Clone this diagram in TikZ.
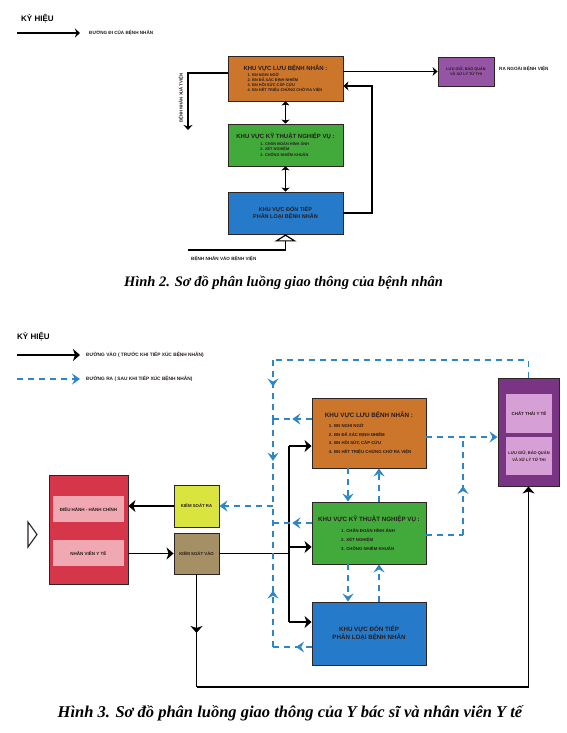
\documentclass[tikz,border=0pt]{standalone}
\usepackage{fontspec}
\setmainfont{Liberation Serif}
\setsansfont{Liberation Sans}
\usepackage{xcolor}
\usepackage{tikz}
\usetikzlibrary{arrows.meta, positioning, calc, decorations.markings}
\definecolor{PLOrange}{RGB}{203, 118, 42}
\definecolor{PLGreen}{RGB}{66, 170, 58}
\definecolor{PLBlue}{RGB}{38, 122, 202}
\definecolor{PLPurple}{RGB}{150, 84, 165}
\definecolor{PLPurpleDark}{RGB}{122, 52, 132}
\definecolor{PLPurpleLight}{RGB}{214, 160, 214}
\definecolor{PLRed}{RGB}{214, 54, 74}
\definecolor{PLRedLight}{RGB}{240, 168, 178}
\definecolor{PLYellow}{RGB}{218, 228, 62}
\definecolor{PLOlive}{RGB}{164, 144, 100}
\definecolor{PLDash}{RGB}{44, 134, 200}
\definecolor{PLBorder}{RGB}{45, 35, 35}
\definecolor{PLText}{RGB}{40, 28, 28}

\begin{document}
\begin{tikzpicture}[x=1pt,y=-1pt,
  box/.style={draw=PLBorder, line width=0.9pt, inner sep=0pt, font=\sffamily\bfseries, text=PLText},
  lineA/.style={line width=1.2pt, draw=black},
  tipA/.style={-{Stealth[length=5pt,width=9pt,inset=1.5pt]}},
  dblA/.style={{Stealth[length=4pt,width=8pt,inset=1pt]}-{Stealth[length=4pt,width=8pt,inset=1pt]}},
  lineB/.style={line width=1.6pt, draw=black},
  tipB/.style={-{Stealth[length=7pt,width=12pt,inset=2pt]}},
  midB/.style={postaction={decorate}, decoration={markings,
    mark=at position #1 with {\arrow{Stealth[length=7pt,width=12pt,inset=2pt]}}}},
  dsh/.style={line width=1.7pt, draw=PLDash, dash pattern=on 6pt off 5pt},
  tipD/.style={-{Stealth[length=8pt,width=11pt,inset=3pt]}},
  midD/.style={postaction={decorate}, decoration={markings,
    mark=at position #1 with {\arrow{Stealth[length=8pt,width=11pt,inset=3pt]}}}},
  legtxt/.style={anchor=west, inner sep=0pt, font=\sffamily\bfseries, text=PLText}]
  \path[use as bounding box] (0,0) rectangle (567,733);
  \fill[white] (0,0) rectangle (567,733);

  % Hinh 2 - ky hieu
  \node[anchor=west, inner sep=0pt] (kyA) at (21,19) {{\fontsize{8}{9}\selectfont\sffamily\bfseries KỲ HIỆU}};
  \coordinate (kyA1) at (17,33);
  \coordinate (kyA2) at (80,33);
  \draw[lineA, tipA] (kyA1) -- (kyA2);
  \node[legtxt] (kyAtxt) at (89,33) {\fontsize{4.6}{5}\selectfont ĐƯỜNG ĐI CỦA BỆNH NHÂN};

  % Hinh 2 - cac khu vuc
  \node[box, fill=PLOrange, minimum width=115, minimum height=45, align=left,
    font=\sffamily\bfseries\fontsize{3.9}{5}\selectfont] (luuA) at (285.5,78.5) {
    {\fontsize{6}{7}\selectfont KHU VỰC LƯU BỆNH NHÂN :}\\[1pt]
    \hspace*{4pt}1. BN NGHI NGỜ\\
    \hspace*{4pt}2. BN ĐÃ XÁC ĐỊNH NHIỄM\\
    \hspace*{4pt}3. BN HỒI SỨC CẤP CỨU\\
    \hspace*{4pt}4. BN HẾT TRIỆU CHỨNG CHỜ RA VIỆN
  };
  \node[box, fill=PLGreen, minimum width=115, minimum height=42, align=left,
    font=\sffamily\bfseries\fontsize{3.9}{5.5}\selectfont] (ktA) at (285.5,145) {
    {\fontsize{6}{7}\selectfont KHU VỰC KỸ THUẬT NGHIỆP VỤ :}\\[1pt]
    \hspace*{24pt}1. CHẨN ĐOÁN HÌNH ẢNH\\
    \hspace*{24pt}2. XÉT NGHIỆM\\
    \hspace*{24pt}3. CHỐNG NHIỄM KHUẨN
  };
  \node[box, fill=PLBlue, minimum width=115, minimum height=42, align=center,
    font=\sffamily\bfseries\fontsize{5.5}{7}\selectfont] (donA) at (285.5,213) {KHU VỰC ĐÓN TIẾP\\ PHÂN LOẠI BỆNH NHÂN};
  \node[box, fill=PLPurple, minimum width=56, minimum height=29, align=center,
    font=\sffamily\bfseries\fontsize{3.8}{4.8}\selectfont] (tthiA) at (466,71.5) {LƯU GIỮ, BẢO QUẢN\\ VÀ XỬ LÝ TỬ THI};
  \node[legtxt] (raA) at (499,69) {\fontsize{4.6}{5}\selectfont RA NGOÀI BỆNH VIỆN};

  % Hinh 2 - duong di
  \coordinate (xuatA) at (188,130);
  \draw[lineA, tipA] ($(luuA.west)+(0,-5.5)$) -| (xuatA);
  \node[legtxt, anchor=center, rotate=90] (xuatAtxt) at (181,98) {\fontsize{4.3}{5}\selectfont BỆNH NHÂN XUẤT VIỆN};
  \draw[lineA, tipA] (luuA.east |- tthiA.west) -- (tthiA.west);
  \draw[lineA, dblA] (luuA.south) -- (ktA.north);
  \draw[lineA, dblA] (ktA.south) -- (donA.north);
  \coordinate (vongA) at (372,86);
  \draw[lineA, tipA] (donA.east) -| (vongA) -- (vongA -| luuA.east);
  \coordinate (vaoA) at (188,250);
  \draw[lineA, -{Triangle[open, length=7pt, width=22pt]}] (vaoA) -| (donA.south);
  \node[legtxt] (vaoAtxt) at (191,259) {\fontsize{4.6}{5}\selectfont BỆNH NHÂN VÀO BỆNH VIỆN};

  \node (capA) at (283.5,283) {{\fontsize{14.5}{16}\selectfont\bfseries\itshape Hình 2. Sơ đồ phân luồng giao thông của bệnh nhân}};

  % Hinh 3 - ky hieu
  \node[anchor=west, inner sep=0pt] (kyB) at (17,337) {{\fontsize{8}{9}\selectfont\sffamily\bfseries KỲ HIỆU}};
  \coordinate (kyB1) at (17,355);
  \coordinate (kyB2) at (80,355);
  \draw[lineB, tipB] (kyB1) -- (kyB2);
  \node[legtxt] (kyBtxt1) at (86,355) {\fontsize{4.8}{5}\selectfont ĐƯỜNG VÀO ( TRƯỚC KHI TIẾP XÚC BỆNH NHÂN)};
  \coordinate (kyB3) at (17,379);
  \coordinate (kyB4) at (80,379);
  \draw[dsh, tipD] (kyB3) -- (kyB4);
  \node[legtxt] (kyBtxt2) at (86,379) {\fontsize{4.8}{5}\selectfont ĐƯỜNG RA ( SAU KHI TIẾP XÚC BỆNH NHÂN)};

  % Hinh 3 - khoi hanh chinh
  \draw[line width=1.1pt, draw=PLBorder, fill=white] (28,522) -- (37,534.5) -- (28,547) -- cycle;
  \node[box, fill=PLRed, minimum width=79, minimum height=109] (dhB) at (88.5,529.5) {};
  \node[box, draw=none, fill=PLRedLight, minimum width=71, minimum height=26] (dhB1) at (88.5,509) {\fontsize{4.5}{5}\selectfont ĐIỀU HÀNH - HÀNH CHÍNH};
  \node[box, draw=none, fill=PLRedLight, minimum width=71, minimum height=26] (dhB2) at (88.5,553) {\fontsize{4.5}{5}\selectfont NHÂN VIÊN Y TẾ};
  \node[box, fill=PLYellow, minimum width=45, minimum height=42] (ksraB) at (196.5,506) {\fontsize{4.3}{5}\selectfont KIỂM SOÁT RA};
  \node[box, fill=PLOlive, minimum width=45, minimum height=41] (ksvaoB) at (196.5,553.5) {\fontsize{4.3}{5}\selectfont KIỂM SOÁT VÀO};

  % Hinh 3 - cac khu vuc
  \node[box, fill=PLOrange, minimum width=114, minimum height=70, align=left,
    font=\sffamily\bfseries\fontsize{4.3}{8.5}\selectfont] (luuB) at (369,433) {
    {\fontsize{6.3}{7.5}\selectfont KHU VỰC LƯU BỆNH NHÂN :}\\[1.5pt]
    \hspace*{4pt}1. BN NGHI NGỜ\\
    \hspace*{4pt}2. BN ĐÃ XÁC ĐỊNH NHIỄM\\
    \hspace*{4pt}3. BN HỒI SỨC CẤP CỨU\\
    \hspace*{4pt}4. BN HẾT TRIỆU CHỨNG CHỜ RA VIỆN
  };
  \node[box, fill=PLGreen, minimum width=114, minimum height=62, align=left,
    font=\sffamily\bfseries\fontsize{4.3}{9}\selectfont] (ktB) at (369,533) {
    {\fontsize{6.2}{7.5}\selectfont KHU VỰC KỸ THUẬT NGHIỆP VỤ :}\\[1.5pt]
    \hspace*{23pt}1. CHẨN ĐOÁN HÌNH ẢNH\\
    \hspace*{23pt}2. XÉT NGHIỆM\\
    \hspace*{23pt}3. CHỐNG NHIỄM KHUẨN
  };
  \node[box, fill=PLBlue, minimum width=114, minimum height=63, align=center,
    font=\sffamily\bfseries\fontsize{6.2}{8}\selectfont] (donB) at (369,633.5) {KHU VỰC ĐÓN TIẾP\\ PHÂN LOẠI BỆNH NHÂN};
  \node[box, fill=PLPurpleDark, minimum width=61, minimum height=108] (ctB) at (528.5,432) {};
  \node[box, draw=none, fill=PLPurpleLight, minimum width=46, minimum height=39] (ctB1) at (529,413.5) {\fontsize{4.4}{5}\selectfont CHẤT THẢI Y TẾ};
  \node[box, draw=none, fill=PLPurpleLight, minimum width=46, minimum height=38, align=center,
    font=\sffamily\bfseries\fontsize{4}{7}\selectfont] (ctB2) at (529,456) {LƯU GIỮ, BẢO QUẢN\\ VÀ XỬ LÝ TỬ THI};

  % Hinh 3 - duong vao
  \draw[lineB, tipB] (ksraB.west) -- (ksraB.west -| dhB.east);
  \draw[lineB, tipB] (dhB.east |- ksvaoB.west) -- (ksvaoB.west);
  \coordinate (trucT) at (289,446);
  \coordinate (trucM) at (289,547);
  \coordinate (trucB) at (289,622);
  \draw[lineB] (ksvaoB.east) -- (ksvaoB.east -| trucT);
  \draw[lineB] (trucT) -- (trucB);
  \draw[lineB, tipB] (trucT) -- (trucT -| luuB.west);
  \draw[lineB, tipB] (trucM) -- (trucM -| ktB.west);
  \draw[lineB, tipB] (trucB) -- (trucB -| donB.west);
  \coordinate (day) at (300,687);
  \draw[lineB, midB=0.52] (ksvaoB.south) -- (ksvaoB.south |- day);
  \draw[lineB, tipB] (ksvaoB.south |- day) -| (ctB.south);

  % Hinh 3 - duong ra
  \coordinate (dTop) at (273,360);
  \coordinate (dK1) at (273,419);
  \coordinate (dK2) at (273,506);
  \coordinate (dG) at (273,523);
  \coordinate (dBot) at (273,647);
  \draw[dsh] (ctB.north) |- (dTop);
  \draw[dsh, midD=0.45] (dTop) -- (dK1);
  \draw[dsh, midD=0.48] (dK1) -- (dK2);
  \draw[dsh, midD=0.4] (dBot) -- (dK2);
  \draw[dsh, tipD] (dK2) -- (dK2 -| ksraB.east);
  \draw[dsh, midD=0.5] (luuB.west |- dK1) -- (dK1);
  \draw[dsh, midD=0.5] (ktB.west |- dG) -- (dG);
  \draw[dsh, midD=0.4] (donB.west |- dBot) -- (dBot);
  \draw[dsh, tipD] ($(luuB.south)+(-21,0)$) -- ($(ktB.north)+(-21,0)$);
  \draw[dsh, tipD] ($(ktB.north)+(10,0)$) -- ($(luuB.south)+(10,0)$);
  \draw[dsh, tipD] ($(ktB.south)+(-21,0)$) -- ($(donB.north)+(-21,0)$);
  \draw[dsh, tipD] ($(donB.north)+(10,0)$) -- ($(ktB.south)+(10,0)$);
  \coordinate (dR) at (463,437);
  \coordinate (dGR) at (463,535);
  \draw[dsh, tipD] (luuB.east |- dR) -- (dR -| ctB.west);
  \draw[dsh] (ktB.east |- dGR) -- (dGR);
  \draw[dsh, midD=0.5] (dGR) -- (dR);

  \node (capB) at (290,713) {{\fontsize{16.5}{18}\selectfont\bfseries\itshape Hình 3. Sơ đồ phân luồng giao thông của Y bác sĩ và nhân viên Y tế}};
\end{tikzpicture}
\end{document}
